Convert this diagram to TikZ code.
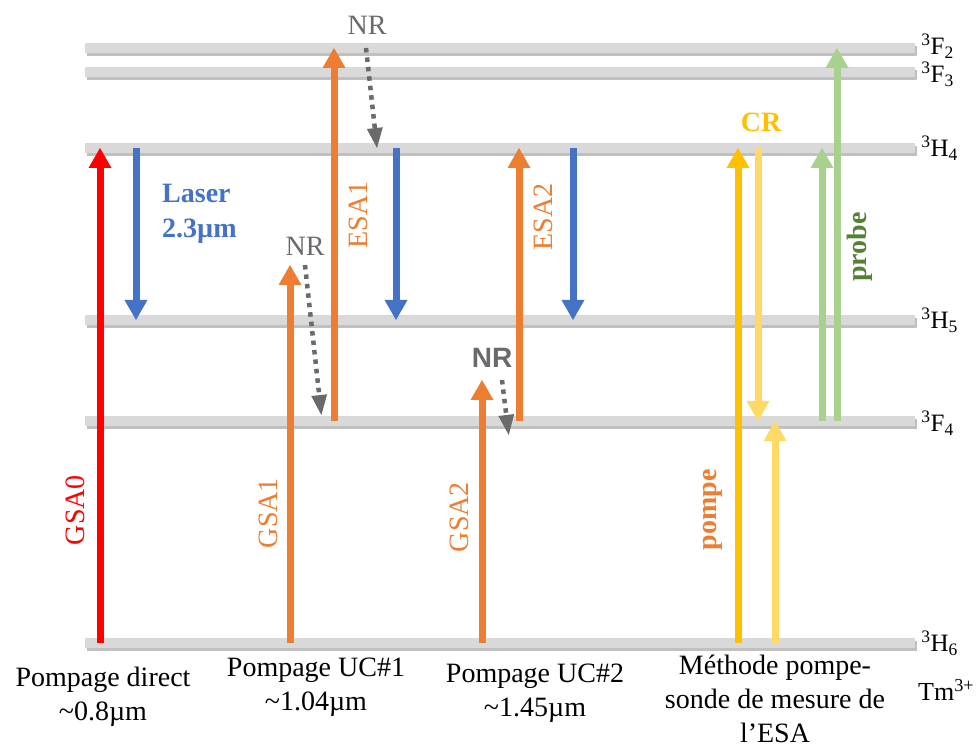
\documentclass[tikz,border=0pt]{standalone}
\usepackage{fontspec}
\setmainfont{Liberation Serif}
\newfontfamily\nrsans{Liberation Sans}
\usepackage{xcolor}
\definecolor{tmred}{HTML}{FF0000}
\definecolor{tmblue}{HTML}{4472C4}
\definecolor{tmorange}{HTML}{ED7D31}
\definecolor{tmyellow}{HTML}{FFC000}
\definecolor{tmlightyellow}{HTML}{FFD966}
\definecolor{tmgreen}{HTML}{A9D18E}
\definecolor{tmdarkgreen}{HTML}{548235}
\definecolor{tmbar}{HTML}{D9D9D9}
\definecolor{tmgray}{HTML}{6A6A6A}
\usepackage{tikz}
\usetikzlibrary{arrows.meta,positioning,shadows}

\begin{document}
\begin{tikzpicture}[x=10pt, y=10pt,
      lvlbar/.style={fill=tmbar, minimum width=830pt, minimum height=10pt, inner sep=0pt, drop shadow={shadow xshift=2pt, shadow yshift=-3pt, opacity=0.45, fill=black!55}},
      lvllab/.style={font=\fontsize{25}{27}\selectfont, inner sep=0pt, right=6pt of #1},
      arr/.style={-{Triangle[width=23pt,length=20pt,line width=0pt]}, line width=7pt},
      nrarr/.style={-{Triangle[width=16pt,length=20pt,line width=0pt]}, line width=4.5pt, tmgray, dash pattern=on 4.5pt off 5pt},
      vlab/.style={font=\fontsize{28}{30}\selectfont, rotate=90, inner sep=0pt},
      nrlab/.style={font=\fontsize{28}{30}\selectfont, tmgray, inner sep=0pt},
      pumplab/.style={font=\fontsize{28}{34}\selectfont, align=center, inner sep=0pt}
    ]
    \useasboundingbox (0,0) rectangle (97.9,74.9);
    \node[lvlbar] (F2) at (50,70.1) {};
    \node[lvlbar] (F3) at (50,67.7) {};
    \node[lvlbar] (H4) at (50,60.1) {};
    \node[lvlbar] (H5) at (50,42.9) {};
    \node[lvlbar] (F4) at (50,32.8) {};
    \node[lvlbar] (H6) at (50,10.6) {};
    \node[lvllab=F2, yshift=1.5pt] (F2lab) {\textsuperscript{3}F\textsubscript{2}};
    \node[lvllab=F3, yshift=-2.5pt] (F3lab) {\textsuperscript{3}F\textsubscript{3}};
    \node[lvllab=H4] (H4lab) {\textsuperscript{3}H\textsubscript{4}};
    \node[lvllab=H5] (H5lab) {\textsuperscript{3}H\textsubscript{5}};
    \node[lvllab=F4, yshift=-2pt] (F4lab) {\textsuperscript{3}F\textsubscript{4}};
    \node[lvllab=H6] (H6lab) {\textsuperscript{3}H\textsubscript{6}};
    \coordinate (v1) at (29,48.4);
    \coordinate (v2) at (48.2,36.9);
    \foreach \x/\a/\b/\c in {10/H6/H4/tmred, 13.6/H4/H5/tmblue, 29/H6/v1/tmorange, 33.4/F4/F2/tmorange, 39.6/H4/H5/tmblue, 48.2/H6/v2/tmorange, 51.9/F4/H4/tmorange, 57.3/H4/H5/tmblue, 73.8/H6/H4/tmyellow, 75.8/H4/F4/tmlightyellow, 77.5/H6/F4/tmlightyellow, 82.2/F4/H4/tmgreen, 83.7/F4/F2/tmgreen} { \draw[arr, color=\c] (\x,0 |- \a) -- (\x,0 |- \b); }
    \draw[nrarr] (36.6,0 |- F2) -- (37.7,0 |- H4);
    \draw[nrarr, shorten >=6pt] (30.5,0 |- v1) -- (32.2,0 |- F4);
    \draw[nrarr, shorten >=-14pt] (50.2,0 |- v2) -- (50.7,0 |- F4);
    \node[nrlab] (nrtop) at (36.7,72.4) {NR};
    \node[nrlab] (nrmid) at (30.5,50.3) {NR};
    \node[nrlab, font=\nrsans\bfseries\fontsize{28}{30}\selectfont] (nrlow) at (49.2,39.1) {NR};
    \node[font=\fontsize{28}{35}\selectfont\bfseries, tmblue, align=left, anchor=west, inner sep=0pt] (laser) at (16.2,53.5) {Laser\\2.3µm};
    \node[font=\fontsize{28}{30}\selectfont\bfseries, tmyellow, inner sep=0pt] (cr) at (76.1,62.7) {CR};
    \node[vlab, tmred] (gsa0) at (7.5,23.9) {GSA0};
    \node[vlab, tmorange] (gsa1) at (26.8,23.6) {GSA1};
    \node[vlab, tmorange] (gsa2) at (45.9,23.2) {GSA2};
    \node[vlab, tmorange] (pompe) at (71.3,23.9) {\bfseries pompe};
    \node[vlab, tmorange] (esa1) at (35.8,53.4) {ESA1};
    \node[vlab, tmorange] (esa2) at (54.3,53.2) {ESA2};
    \node[vlab, tmdarkgreen] (probe) at (86.0,50.2) {\bfseries probe};
    \node[pumplab] (direct) at (10.3,5.2) {Pompage direct\\\textasciitilde0.8µm};
    \node[pumplab] (uc1) at (31.6,6.2) {Pompage UC\#1\\\textasciitilde1.04µm};
    \node[pumplab] (uc2) at (53.5,5.6) {Pompage UC\#2\\\textasciitilde1.45µm};
    \node[pumplab] (methode) at (77.5,5.0) {Méthode pompe-\\sonde de mesure de\\l’ESA};
    \node[font=\fontsize{26}{28}\selectfont, anchor=west, inner sep=0pt] (tm) at (91.8,5.9) {Tm\textsuperscript{3+}};
  \end{tikzpicture}
\end{document}
